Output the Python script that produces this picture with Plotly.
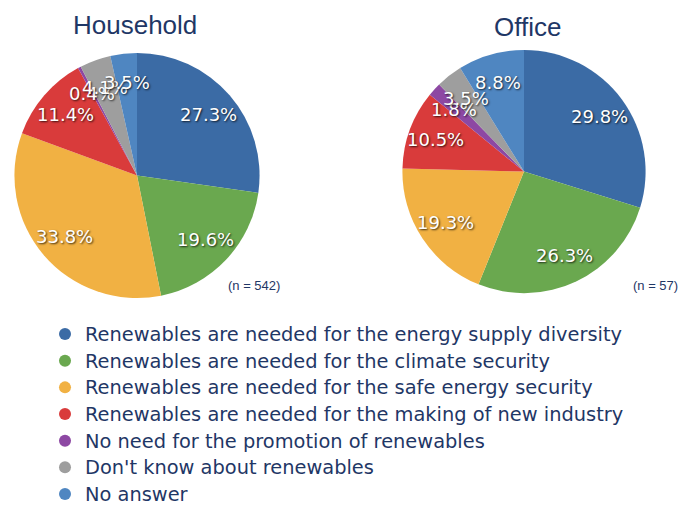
import math
import plotly.graph_objects as go

# Survey answers on the promotion of renewables
categories = [
    "Renewables are needed for the energy supply diversity",
    "Renewables are needed for the climate security",
    "Renewables are needed for the safe energy security",
    "Renewables are needed for the making of new industry",
    "No need for the promotion of renewables",
    "Don't know about renewables",
    "No answer",
]
household_pct = [27.3, 19.6, 33.8, 11.4, 0.4, 4.1, 3.5]
office_pct = [29.8, 26.3, 19.3, 10.5, 1.8, 3.5, 8.8]
household_n = 542
office_n = 57

colors = ["#3b6ba5", "#6aa84f", "#f1b143", "#d93b3b", "#8d48a3", "#9e9e9e", "#4f86c1"]

W, H = 683, 513
NAVY = "#1f3766"

# pie placement in pixels: centre x, centre y (from top), radius,
# title centre, right edge of the sample-size note
pies = [
    dict(title="Household", vals=household_pct, n=household_n,
         cx=137, cy=179, r=125, tx=135, ty=25, nx=282),
    dict(title="Office", vals=office_pct, n=office_n,
         cx=524, cy=175, r=124, tx=527, ty=28, nx=680),
]


def paper(px, py):
    return px / W, 1 - py / H


fig = go.Figure()
annotations = []

for p in pies:
    cx, cy, r, vals = p["cx"], p["cy"], p["r"], p["vals"]
    fig.add_trace(go.Pie(
        labels=categories,
        values=vals,
        sort=False,
        direction="clockwise",
        rotation=0,
        textinfo="none",
        hoverinfo="label+percent",
        marker=dict(colors=colors, line=dict(width=0)),
        domain=dict(x=[(cx - r) / W, (cx + r) / W],
                    y=[(H - cy - r) / H, (H - cy + r) / H]),
        showlegend=False,
    ))

    # percentage labels along each slice's mid-angle
    total = sum(vals)
    cum = 0.0
    for v in vals:
        mid = (cum + v / 2) / total
        cum += v
        theta = 2 * math.pi * mid
        ax, ay = paper(cx + 0.76 * r * math.sin(theta),
                       cy - 0.76 * r * math.cos(theta))
        annotations.append(dict(
            x=ax, y=ay, xref="paper", yref="paper",
            xanchor="center", yanchor="middle",
            text=f"{v:.1f}%", showarrow=False,
            font=dict(family="DejaVu Sans", size=18, color="white",
                      shadow="1px 1px 2px rgba(0,0,0,0.75)"),
        ))

    # chart title above the pie
    ax, ay = paper(p["tx"], p["ty"])
    annotations.append(dict(
        x=ax, y=ay, xref="paper", yref="paper",
        xanchor="center", yanchor="middle",
        text=p["title"], showarrow=False,
        font=dict(family="Liberation Sans", size=26, color=NAVY),
    ))
    # sample size note at the lower right
    ax, ay = paper(p["nx"], 291)
    annotations.append(dict(
        x=ax, y=ay, xref="paper", yref="paper",
        xanchor="right", yanchor="middle",
        text=f"(n = {p['n']})", showarrow=False,
        font=dict(family="Liberation Sans", size=13, color=NAVY),
    ))

# circular legend entries; the row pitch follows the legend font size,
# the entry text itself is set a little larger
for name, col in zip(categories, colors):
    fig.add_trace(go.Scatter(
        x=[None], y=[None], mode="markers",
        name=f'<span style="font-size:19.4px">{name}</span>',
        marker=dict(symbol="circle", size=12, color=col),
        hoverinfo="skip",
    ))

fig.update_layout(
    width=W, height=H,
    margin=dict(l=0, r=0, t=0, b=0),
    paper_bgcolor="white", plot_bgcolor="white",
    xaxis=dict(visible=False), yaxis=dict(visible=False),
    annotations=annotations,
    legend=dict(
        x=45 / W, y=1 - 322 / H, xanchor="left", yanchor="top",
        font=dict(family="DejaVu Sans", size=18.2, color=NAVY),
        bgcolor="rgba(0,0,0,0)", itemclick=False,
    ),
)

fig.write_html("out.html")
